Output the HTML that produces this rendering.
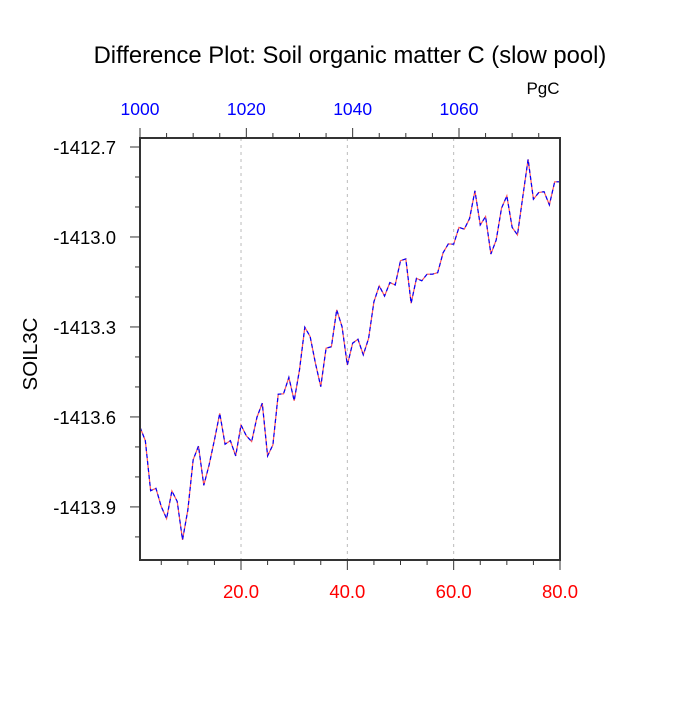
<!DOCTYPE html>
<html><head><meta charset="utf-8"><style>
body{margin:0;background:#fff}
svg text{font-family:"Liberation Sans",sans-serif}
</style></head><body>
<svg id="chart" width="700" height="700">
<text x="350" y="63" text-anchor="middle" font-size="23.8">Difference Plot: Soil organic matter C (slow pool)</text>
<text x="543" y="94" text-anchor="middle" font-size="17">PgC</text>
<text transform="translate(37,354) rotate(-90)" text-anchor="middle" font-size="20.5">SOIL3C</text>
<g id="grid"></g><g id="series"></g><g id="axes"></g>
</svg>
<script>
const xTicks=[20,40,60,80];
const xTickLabels=["20.0","40.0","60.0","80.0"];
const topTicks=[1000,1020,1040,1060];
const yTicks=[-1412.7,-1413.0,-1413.3,-1413.6,-1413.9];
const yTickLabels=["-1412.7","-1413.0","-1413.3","-1413.6","-1413.9"];
const values=[-1413.634,-1413.679,-1413.846,-1413.838,-1413.899,-1413.939,-1413.847,-1413.882,-1414.010,-1413.910,
-1413.743,-1413.697,-1413.828,-1413.760,-1413.677,-1413.588,-1413.691,-1413.679,-1413.730,-1413.627,
-1413.663,-1413.682,-1413.601,-1413.554,-1413.730,-1413.693,-1413.524,-1413.523,-1413.468,-1413.546,
-1413.443,-1413.301,-1413.332,-1413.421,-1413.499,-1413.371,-1413.366,-1413.243,-1413.299,-1413.427,
-1413.354,-1413.341,-1413.393,-1413.338,-1413.216,-1413.163,-1413.197,-1413.152,-1413.160,-1413.079,
-1413.073,-1413.221,-1413.138,-1413.146,-1413.124,-1413.124,-1413.119,-1413.053,-1413.023,-1413.024,
-1412.968,-1412.974,-1412.938,-1412.846,-1412.960,-1412.932,-1413.057,-1413.010,-1412.904,-1412.863,
-1412.968,-1412.993,-1412.866,-1412.741,-1412.874,-1412.852,-1412.849,-1412.893,-1412.816,-1412.816];
const L=140,R=560,T=138,B=560,X0=1,X1=80,Y0=-1414.077,Y1=-1412.67;
const sx=v=>L+(v-X0)/(X1-X0)*(R-L);
const sy=v=>B-(v-Y0)/(Y1-Y0)*(B-T);
const NS="http://www.w3.org/2000/svg";
function mk(tag,attrs,parent){const e=document.createElementNS(NS,tag);for(const k in attrs)e.setAttribute(k,attrs[k]);document.getElementById(parent).appendChild(e);return e;}
xTicks.slice(0,3).forEach(t=>{const g=mk('line',{x1:sx(t),x2:sx(t),y1:T,y2:B,stroke:'#bbb','stroke-dasharray':'3,4','stroke-width':1},'grid');

});
const pts=values.map((v,i)=>sx(i+1).toFixed(2)+','+sy(v).toFixed(2)).join(' ');
const l1=mk('polyline',{points:pts,fill:'none',stroke:'#f55','stroke-width':1.2},'series');


const l2=mk('polyline',{points:pts,fill:'none',stroke:'#00f','stroke-width':1.2,'stroke-dasharray':'4,3'},'series');


const fr=mk('rect',{x:L,y:T,width:R-L,height:B-T,fill:'none',stroke:'#333','stroke-width':2},'axes');


for(let t=5;t<=80;t+=5){const maj=t%20===0;
mk('line',{x1:sx(t),x2:sx(t),y1:B,y2:B+(maj?10:5),stroke:'#333','stroke-width':1},'axes');}
for(let t=1000;t<=1079;t+=5){const maj=t%20===0;const x=sx(t-999);
mk('line',{x1:x,x2:x,y1:T,y2:T-(maj?10:5),stroke:'#333','stroke-width':1},'axes');}
xTicks.forEach((t,i)=>{const e=mk('text',{x:sx(t),y:598,'text-anchor':'middle','font-size':18.5,fill:'#f00'},'axes');e.textContent=xTickLabels[i];

});
topTicks.forEach(t=>{const e=mk('text',{x:sx(t-999),y:115,'text-anchor':'middle','font-size':17.5,fill:'#00f'},'axes');e.textContent=t;

});
for(let k=-14140;k<=-14127;k++){const v=k/10;const y=sy(v);if(y<T-0.5||y>B+0.5)continue;const maj=yTicks.some(t=>Math.abs(t-v)<1e-6);
mk('line',{x1:L,x2:L-(maj?10:5),y1:y,y2:y,stroke:'#333','stroke-width':1},'axes');}
yTicks.forEach((t,i)=>{const e=mk('text',{x:116,y:sy(t)+7,'text-anchor':'end','font-size':18.5},'axes');e.textContent=yTickLabels[i];

});
</script>
</body></html>
